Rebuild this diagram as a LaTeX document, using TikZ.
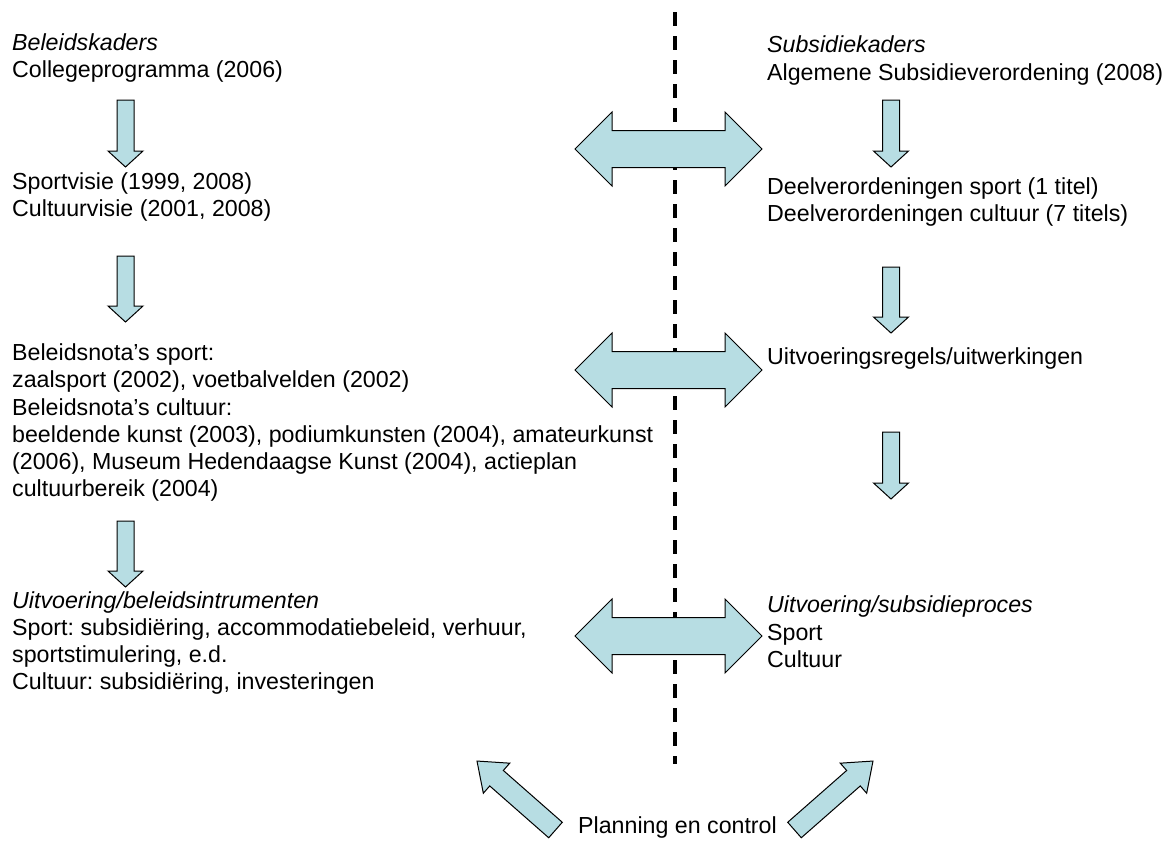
\documentclass[tikz,border=0pt]{standalone}
\usepackage{fontspec}
\setmainfont{Liberation Sans}
\frenchspacing
\definecolor{blkfill}{RGB}{183,221,227}
\newcommand\DownBlk[3]{\draw[blk] (#1-8.5,#2) -- (#1+8.5,#2) -- (#1+8.5,#3-16) -- (#1+17.5,#3-16) -- (#1,#3) -- (#1-17.5,#3-16) -- (#1-8.5,#3-16) -- cycle;}
\newcommand\DblBlk[1]{\draw[blk] (575,#1) -- (612,#1-37) -- (612,#1-18.5) -- (725,#1-18.5) -- (725,#1-37) -- (762,#1) -- (725,#1+37) -- (725,#1+18.5) -- (612,#1+18.5) -- (612,#1+37) -- cycle;}
\newcommand\DiagBlk[3]{\draw[blk, shift={(#1,#2)}, rotate=#3] (0,-10.3) -- (78.5,-10.3) -- (78.5,-20) -- (104.5,0) -- (78.5,20) -- (78.5,10.3) -- (0,10.3) -- cycle;}
\begin{document}
\begin{tikzpicture}[x=1pt,y=-1pt,
  blk/.style={draw=black, fill=blkfill, line width=1pt, line join=miter},
  txt/.style={anchor=base west, inner sep=0pt, font=\fontsize{23.2}{27}\selectfont},
  ttl/.style={anchor=base west, inner sep=0pt, font=\fontsize{23.2}{27}\selectfont\itshape},
  sepline/.style={line width=3.5pt, dash pattern=on 14pt off 10pt}]
\useasboundingbox (0,0) rectangle (1173,844);
\fill[white] (0,0) rectangle (1173,844);

% separator
\coordinate (sTop) at (675,12);
\coordinate (sBot) at (675,764);
\draw[sepline] (sTop) -- (sBot);

% left column
\node[ttl] (l1) at (12,50) {Beleidskaders};
\node[txt] (l2) at (12,77) {Collegeprogramma (2006)};
\node[txt] (l3) at (12,189) {Sportvisie (1999, 2008)};
\node[txt] (l4) at (12,216) {Cultuurvisie (2001, 2008)};
\node[txt] (l5) at (12,360) {Beleidsnota’s sport:};
\node[txt] (l6) at (12,387) {zaalsport (2002), voetbalvelden (2002)};
\node[txt] (l7) at (12,415) {Beleidsnota’s cultuur:};
\node[txt] (l8) at (12,442) {beeldende kunst (2003), podiumkunsten (2004), amateurkunst};
\node[txt] (l9) at (12,469) {(2006), Museum Hedendaagse Kunst (2004), actieplan};
\node[txt] (l10) at (12,496) {cultuurbereik (2004)};
\node[ttl] (l11) at (12,608) {Uitvoering/beleidsintrumenten};
\node[txt] (l12) at (12,635) {Sport: subsidiëring, accommodatiebeleid, verhuur,};
\node[txt] (l13) at (12,662) {sportstimulering, e.d.};
\node[txt] (l14) at (12,689) {Cultuur: subsidiëring, investeringen};

% right column
\node[ttl] (r1) at (767,52) {Subsidiekaders};
\node[txt] (r2) at (767,80) {Algemene Subsidieverordening (2008)};
\node[txt] (r3) at (767,194) {Deelverordeningen sport (1 titel)};
\node[txt] (r4) at (767,221) {Deelverordeningen cultuur (7 titels)};
\node[txt] (r5) at (767,364) {Uitvoeringsregels/uitwerkingen};
\node[ttl] (r6) at (767,612) {Uitvoering/subsidieproces};
\node[txt] (r7) at (767,640) {Sport};
\node[txt] (r8) at (767,667) {Cultuur};

\node[txt] (pc) at (578,833) {Planning en control};

% vertical block arrows
\DownBlk{125.5}{100}{167}
\DownBlk{125.5}{256}{322}
\DownBlk{125.5}{521}{587}
\DownBlk{891}{100}{167}
\DownBlk{891}{267}{333}
\DownBlk{891}{432}{499}

% double block arrows
\DblBlk{149}
\DblBlk{370}
\DblBlk{636}

% diagonal block arrows
\DiagBlk{555.5}{830}{138.7}
\DiagBlk{794.5}{830}{41.3}
\end{tikzpicture}
\end{document}
